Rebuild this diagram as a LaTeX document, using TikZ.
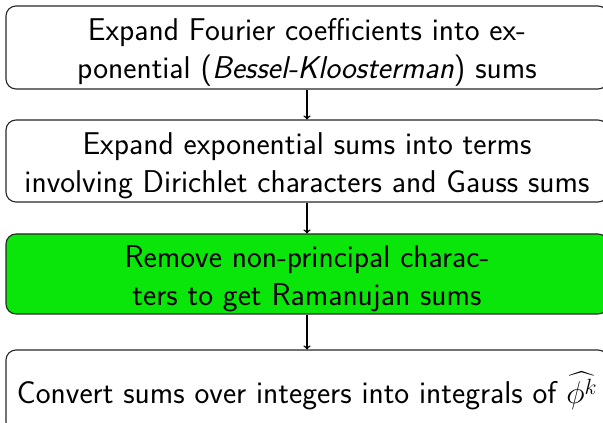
\RequirePackage{fix-cm}
\documentclass[tikz,border=0pt]{standalone}
\usepackage{amsmath}
\definecolor{boxgreen}{RGB}{10,230,10}
\newcommand{\topstrut}{\rule{0pt}{31pt}}
\tikzset{
  flowbox/.style={draw=black!85, line width=1.1pt, rounded corners=10pt,
    minimum width=602pt, inner sep=0pt, align=center,
    font=\sffamily\fontsize{31.5}{38}\selectfont},
  flowarrow/.style={->, line width=1.5pt}
}
\begin{document}
\begin{tikzpicture}[x=1pt,y=1pt]
\useasboundingbox (0,0) rectangle (603,423);
\node[flowbox, minimum height=83pt] (b1) at (307,375.5)
  {\topstrut Expand Fourier coefficients into ex-\\ponential (\textit{Bessel-Kloosterman}) sums};
\node[flowbox, minimum height=82pt] (b2) at (307,262)
  {\topstrut Expand exponential sums into terms\\involving Dirichlet characters and Gauss sums};
\node[flowbox, fill=boxgreen, minimum height=80pt] (b3) at (307,149)
  {\topstrut Remove non-principal charac-\\ters to get Ramanujan sums};
\node[flowbox, minimum height=82pt] (b4) at (307,32)
  {Convert sums over integers into integrals of $\widehat{\phi^k}$};
\draw[flowarrow] (b1) -- (b2);
\draw[flowarrow] (b2) -- (b3);
\draw[flowarrow] (b3) -- (b4);
\end{tikzpicture}
\end{document}
